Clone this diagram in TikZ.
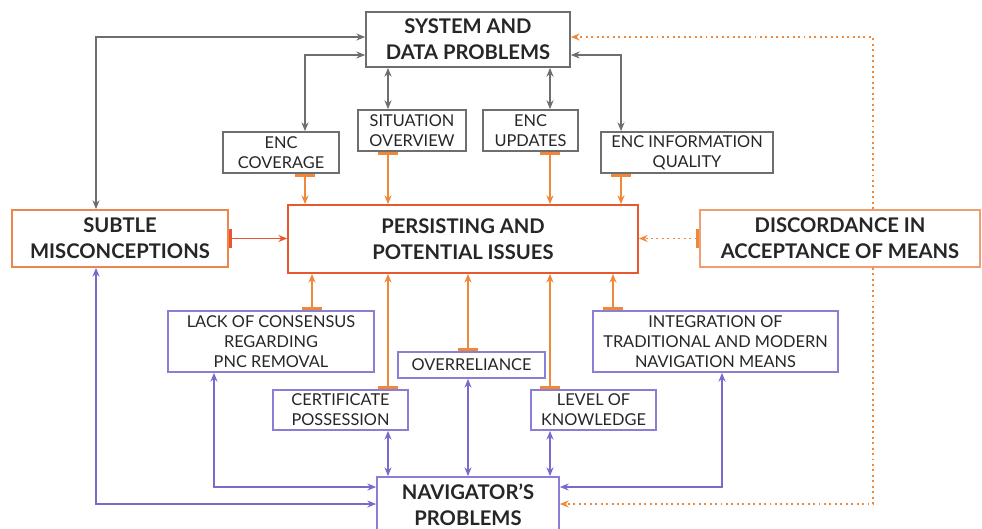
\documentclass[tikz,border=0pt]{standalone}
\usepackage{fontspec}
\setmainfont{Lato}
\usetikzlibrary{positioning, arrows.meta, calc}
\definecolor{gline}{HTML}{6E6E6E}
\definecolor{oline}{HTML}{F0883A}
\definecolor{rbox}{HTML}{E8582E}
\definecolor{obox}{HTML}{EE8450}
\definecolor{pline}{HTML}{7A6ACB}
\definecolor{pbox}{HTML}{8A7ED6}
\tikzset{
  box/.style={draw, line width=1pt, inner sep=0pt, align=center, text=black!85},
  small/.style={box, font=\fontsize{9.3}{11.3}\selectfont},
  big/.style={box, font=\fontsize{11.5}{15}\selectfont\bfseries},
  glink/.style={{Stealth[length=5pt,width=4pt]}-{Stealth[length=5pt,width=4pt]}, gline, line width=1.1pt},
  olink/.style={{Bar[width=11pt,line width=2pt]}-{Stealth[length=5pt,width=4pt]}, oline, line width=1.1pt},
  plink/.style={{Stealth[length=5pt,width=4pt]}-{Stealth[length=5pt,width=4pt]}, pline, line width=1.1pt},
  dlink/.style={-{Stealth[length=5pt,width=4pt]}, oline, line width=1.1pt, dotted}
}

\begin{document}
\begin{tikzpicture}[x=0.02cm, y=-0.02cm]
    \useasboundingbox (0,0) rectangle (982,528);
    \fill[white] (0,0) rectangle (982,528);

    % Top block
    \node[big, draw=gline, minimum width=4.08cm, minimum height=1.10cm] (sys) at (468,39.5) {SYSTEM AND\\DATA PROBLEMS};
    \node[small, draw=gline, minimum width=2.32cm, minimum height=0.82cm] (enccov) at (281,152.5) {ENC\\COVERAGE};
    \node[small, draw=gline, minimum width=2.16cm, minimum height=0.82cm] (sitov) at (412,130.5) {SITUATION\\OVERVIEW};
    \node[small, draw=gline, minimum width=1.90cm, minimum height=0.82cm] (encupd) at (530.5,130.5) {ENC\\UPDATES};
    \node[small, draw=gline, minimum width=3.44cm, minimum height=0.82cm] (encinfo) at (687,152.5) {ENC INFORMATION\\QUALITY};

    % Middle row
    \node[big, draw=rbox, minimum width=7.00cm, minimum height=1.36cm] (pers) at (463,239) {PERSISTING AND\\POTENTIAL ISSUES};
    \node[big, draw=obox, minimum width=4.32cm, minimum height=1.14cm] (subtle) at (120,238.5) {SUBTLE\\MISCONCEPTIONS};
    \node[big, draw=obox!80, minimum width=5.60cm, minimum height=1.14cm] (disc) at (840,238.5) {DISCORDANCE IN\\ACCEPTANCE OF MEANS};

    % Bottom block
    \node[small, draw=pbox, minimum width=4.12cm, minimum height=1.22cm] (lack) at (271,341.5) {LACK OF CONSENSUS\\REGARDING\\PNC REMOVAL};
    \node[small, draw=pbox, minimum width=2.94cm, minimum height=0.52cm] (overrel) at (471.5,365) {OVERRELIANCE};
    \node[small, draw=pbox, minimum width=2.70cm, minimum height=0.80cm] (cert) at (340.5,410) {CERTIFICATE\\POSSESSION};
    \node[small, draw=pbox, minimum width=2.50cm, minimum height=0.80cm] (level) at (593.5,410) {LEVEL OF\\KNOWLEDGE};
    \node[small, draw=pbox, minimum width=4.90cm, minimum height=1.22cm] (integ) at (715.5,341.5) {INTEGRATION OF\\TRADITIONAL AND MODERN\\NAVIGATION MEANS};
    \node[big, draw=pbox, minimum width=3.64cm, minimum height=1.12cm] (nav) at (468,505) {NAVIGATOR'S\\PROBLEMS};

    % Bend points
    \coordinate (k1) at (96,37);
    \coordinate (k2) at (305,55);
    \coordinate (k3) at (388,0);
    \coordinate (k4) at (550,0);
    \coordinate (k5) at (621,55);
    \coordinate (b1) at (312,0);
    \coordinate (b3) at (468,0);
    \coordinate (b5) at (613,0);
    \coordinate (p1) at (96,504);
    \coordinate (p2) at (214,487);
    \coordinate (p6) at (722,487);
    \coordinate (d1) at (873,37);
    \coordinate (d2) at (873,504);

    % Grey links
    \draw[glink] (subtle.north -| k1) |- (sys.west |- k1);
    \draw[glink] (enccov.north -| k2) |- (sys.west |- k2);
    \draw[glink] (sitov.north -| k3) -- (sys.south -| k3);
    \draw[glink] (encupd.north -| k4) -- (sys.south -| k4);
    \draw[glink] (encinfo.north -| k5) |- (sys.east |- k5);

    % Orange links
    \draw[olink] (enccov.south -| k2) -- (pers.north -| k2);
    \draw[olink] (sitov.south -| k3) -- (pers.north -| k3);
    \draw[olink] (encupd.south -| k4) -- (pers.north -| k4);
    \draw[olink] (encinfo.south -| k5) -- (pers.north -| k5);
    \draw[olink, draw=rbox] (subtle.east) -- (subtle.east -| pers.west);
    \draw[olink, dotted] (disc.west) -- (disc.west -| pers.east);
    \draw[olink] (lack.north -| b1) -- (pers.south -| b1);
    \draw[olink] (cert.north -| k3) -- (pers.south -| k3);
    \draw[olink] (overrel.north -| b3) -- (pers.south -| b3);
    \draw[olink] (level.north -| k4) -- (pers.south -| k4);
    \draw[olink] (integ.north -| b5) -- (pers.south -| b5);

    % Purple links
    \draw[plink] (subtle.south -| p1) |- (nav.west |- p1);
    \draw[plink] (lack.south -| p2) |- (nav.west |- p2);
    \draw[plink] (cert.south -| k3) -- (nav.north -| k3);
    \draw[plink] (overrel.south -| b3) -- (nav.north -| b3);
    \draw[plink] (level.south -| k4) -- (nav.north -| k4);
    \draw[plink] (integ.south -| p6) |- (nav.east |- p6);

    % Dotted links
    \draw[dlink] (disc.north -| d1) |- (sys.east |- d1);
    \draw[dlink] (disc.south -| d2) |- (nav.east |- d2);
\end{tikzpicture}
\end{document}
